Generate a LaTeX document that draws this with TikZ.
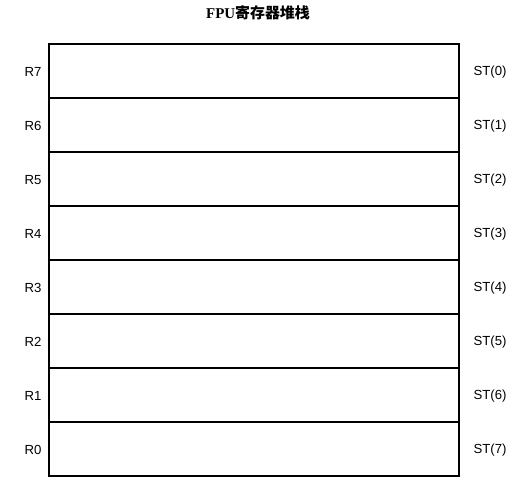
\documentclass[tikz,border=0pt]{standalone}
\usepackage{fontspec}
\setmainfont{Liberation Serif}
\setsansfont{Liberation Sans}
\newfontfamily\cjkfont{Noto Sans CJK SC}
\usepackage{tikz}
\usetikzlibrary{positioning}

\tikzset{
  regcell/.style={draw, line width=0.8pt, rectangle, minimum width=8.2cm, minimum height=1.08cm, inner sep=0pt, outer sep=0pt},
  reglabel/.style={font=\sffamily\fontsize{7.5}{9}\selectfont, inner sep=1pt},
  stacktitle/.style={font=\bfseries\fontsize{8.5}{10}\selectfont}
}

\begin{document}
\begin{tikzpicture}[x=0.02cm,y=-0.02cm]
  \useasboundingbox (0,0) rectangle (516,482);
  \node[stacktitle] (title) at (258,13) {FPU{\cjkfont\bfseries 寄存器堆栈}};
  % register rows, top to bottom
  \foreach \i in {0,...,7} {
    \pgfmathtruncatemacro\r{7-\i}
    \node[regcell] (cell\i) at (254,71+54*\i) {};
    \node[reglabel] (r\r) at (33,72+54*\i) {R\r};
    \node[reglabel] (st\i) at (490,72+54*\i) {ST(\i)};
  }
\end{tikzpicture}
\end{document}
